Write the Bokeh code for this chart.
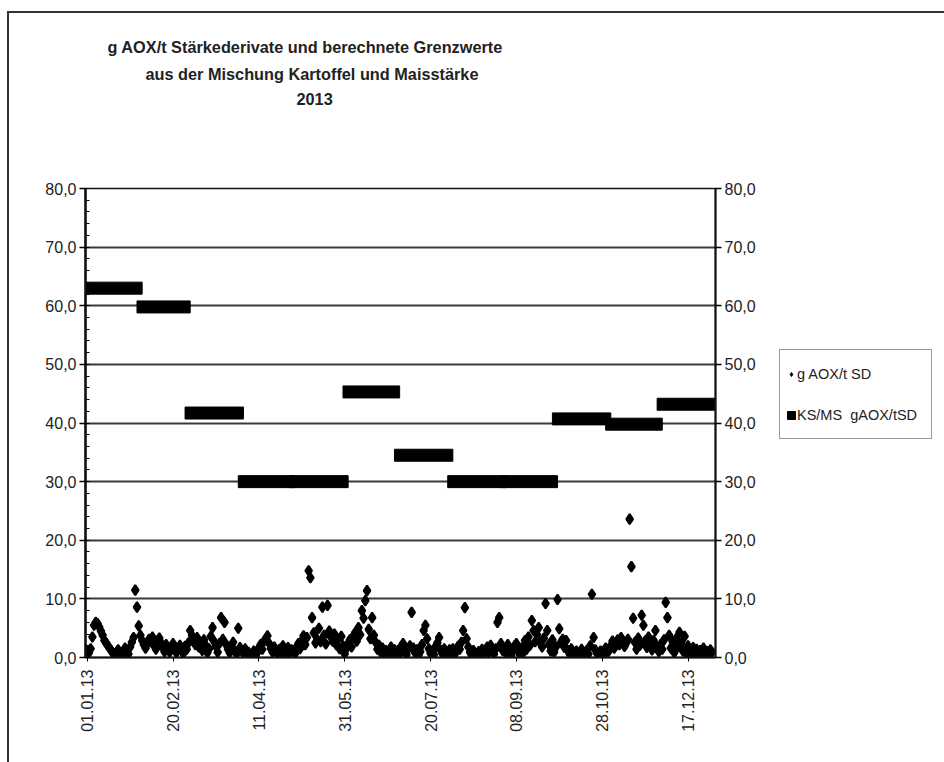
import numpy as np
from bokeh.plotting import figure
from bokeh.layouts import row, column
from bokeh.models import (ColumnDataSource, LinearAxis, FixedTicker, Title,
                          Legend, LegendItem, Range1d, Spacer)
from bokeh.embed import file_html
from bokeh.resources import INLINE

FONT = "'Liberation Sans', Arial, sans-serif"

# ---------------- data ----------------
title_lines = ["g AOX/t Stärkederivate und berechnete Grenzwerte",
               "aus der Mischung Kartoffel und Maisstärke",
               "2013"]

# daily values g AOX/t SD, 2013 (one per day)
jan = [1.2, 0.8, 1.5, 3.5, 5.5, 6.0, 5.8, 5.2, 4.5, 3.8, 2.9, 2.5, 2.0, 1.6, 1.2, 0.7,
       0.4, 0.9, 1.3, 0.5, 0.3, 1.0, 1.6, 0.8, 0.6, 1.8, 2.6, 3.4, 11.5, 8.6, 5.4]
feb = [3.8, 2.9, 2.2, 1.6, 2.4, 3.1, 2.7, 3.5, 2.0, 1.4, 2.8, 3.3, 2.5, 1.7, 1.0, 2.2,
       1.5, 0.9, 1.8, 2.4, 1.3, 0.8, 1.6, 2.1, 1.1, 0.7, 1.9, 1.4]
mar = [2.5, 4.6, 3.8, 2.9, 2.2, 3.4, 1.8, 2.6, 1.2, 3.0, 2.1, 0.8, 1.5, 3.6, 5.1, 2.7,
       1.9, 0.9, 2.4, 6.8, 3.1, 6.0, 2.2, 1.4, 0.8, 1.9, 2.6, 1.1, 0.6, 5.0, 1.7]
apr = [1.2, 0.7, 1.5, 0.4, 0.9, 0.2, 0.6, 1.1, 0.3, 0.8, 1.6, 2.2, 1.4, 2.8, 3.1, 3.7,
       2.4, 1.5, 0.9, 1.8, 1.2, 0.6, 1.4, 0.8, 2.0, 1.1, 0.5, 1.7, 0.9, 1.3]
may = [1.0, 0.6, 1.8, 2.4, 1.5, 2.9, 3.7, 2.2, 3.4, 14.8, 13.6, 6.8, 4.2, 2.5, 3.1, 5.0,
       2.7, 8.6, 3.8, 2.3, 8.9, 4.5, 3.5, 2.8, 4.0, 2.2, 3.1, 1.5, 3.6, 2.0, 0.6]
jun = [1.5, 2.4, 3.0, 1.8, 3.6, 4.2, 2.8, 5.1, 3.9, 8.0, 6.7, 9.7, 11.4, 4.8, 3.2, 6.8,
       3.8, 2.6, 1.4, 2.1, 0.9, 1.6, 0.7, 1.2, 0.5, 1.0, 1.8, 0.6, 1.3, 0.8]
jul = [1.2, 0.6, 1.9, 2.4, 1.1, 0.5, 1.4, 2.0, 7.7, 1.6, 0.8, 1.3, 0.4, 1.0, 2.2, 4.6,
       5.5, 3.2, 1.5, 0.7, 1.1, 0.5, 1.9, 2.5, 3.4, 1.2, 0.6, 1.5, 0.9, 0.4, 1.3]
aug = [0.8, 1.5, 0.5, 1.1, 1.9, 1.4, 2.6, 4.6, 8.5, 3.2, 1.8, 0.9, 0.4, 1.2, 0.6, 0.3,
       1.0, 0.7, 1.4, 0.5, 1.1, 1.8, 0.9, 2.1, 1.3, 0.6, 1.5, 6.0, 6.8, 2.4, 1.2]
sep = [1.5, 0.7, 2.2, 1.0, 0.4, 1.3, 2.0, 2.4, 1.1, 0.5, 1.6, 0.8, 2.9, 1.4, 3.5, 2.1,
       6.3, 4.6, 2.7, 3.9, 5.1, 2.5, 1.8, 3.3, 9.2, 4.6, 2.2, 1.1, 3.0, 0.9]
oct_ = [1.8, 9.9, 4.9, 2.6, 3.1, 1.7, 2.9, 1.2, 0.6, 1.5, 0.9, 0.4, 1.1, 0.7, 0.3, 1.4,
        0.8, 0.5, 1.2, 0.6, 2.0, 10.8, 3.4, 1.3, 0.7, 0.4, 1.1, 0.5, 0.9, 1.6, 0.8]
nov = [1.2, 2.0, 2.8, 1.6, 2.4, 3.0, 2.2, 3.4, 2.7, 1.9, 2.5, 3.1, 23.6, 15.5, 6.7, 2.6,
       1.4, 3.3, 2.1, 7.2, 5.5, 2.8, 1.7, 3.5, 2.4, 1.3, 2.9, 4.6, 1.8, 1.0]
dec = [2.2, 1.4, 3.0, 9.4, 6.8, 3.8, 1.6, 2.7, 0.8, 3.2, 1.9, 4.3, 2.5, 1.1, 3.6, 0.7,
       2.0, 1.3, 0.5, 1.7, 0.9, 1.4, 0.4, 1.2, 0.8, 1.6, 0.5, 1.0, 0.6, 1.3, 0.9]
aox_daily = jan + feb + mar + apr + may + jun + jul + aug + sep + oct_ + nov + dec

# monthly limit values KS/MS gAOX/tSD
month_days = [31, 28, 31, 30, 31, 30, 31, 31, 30, 31, 30, 31]
ksms_limit = [63.0, 59.8, 41.7, 30.0, 30.0, 45.3, 34.5, 30.0, 30.0, 40.7, 39.8, 43.2]

x_tick_days = [0, 50, 100, 150, 200, 250, 300, 350]
x_tick_labels = ["01.01.13", "20.02.13", "11.04.13", "31.05.13",
                 "20.07.13", "08.09.13", "28.10.13", "17.12.13"]
y_ticks = [0, 10, 20, 30, 40, 50, 60, 70, 80]
y_tick_labels = ["0,0", "10,0", "20,0", "30,0", "40,0", "50,0", "60,0", "70,0", "80,0"]
legend_labels = ["g AOX/t SD", "KS/MS  gAOX/tSD"]

# ---------------- sources ----------------
day_index = np.arange(len(aox_daily))
pts = ColumnDataSource(dict(x=day_index, y=aox_daily))

starts = np.concatenate([[0], np.cumsum(month_days)[:-1]])
mid = starts + (np.array(month_days) - 1) / 2.0
bars = ColumnDataSource(dict(x=mid, y=ksms_limit, w=np.array(month_days) + 3))

# ---------------- geometry (absolute page pixels) ----------------
PAGE_W, PAGE_H = 944, 762
OX, OY = 9, 13                  # content origin inside the page frame lines
W_LEG = 184
W_MAIN = PAGE_W - OX - W_LEG
H = PAGE_H - OY
FL, FR, FT, FB = 85, 715, 188, 657   # frame edges in page pixels

p = figure(width=W_MAIN, height=H, output_backend="svg", toolbar_location=None,
           x_range=Range1d(-1, 366), y_range=Range1d(0, 80),
           min_border_left=FL - OX, min_border_right=OX + W_MAIN - FR,
           min_border_top=FT - OY, min_border_bottom=PAGE_H - FB,
           background_fill_color="white", border_fill_color="white")
p.outline_line_color = "#111111"
p.outline_line_width = 1.5

p.xgrid.visible = False
p.ygrid.ticker = FixedTicker(ticks=y_ticks)
p.ygrid.grid_line_color = "#3a3a3a"
p.ygrid.grid_line_width = 2

# title: three lines stacked above the frame (first added = closest to frame)
title_style = dict(align="left", text_font=FONT, text_font_style="bold",
                   text_font_size="16.3px", text_color="#222222")
p.add_layout(Title(text=" ", standoff=64, **title_style), "above")          # spacer
p.add_layout(Title(text=title_lines[2], offset=296 - FL, standoff=0, **title_style), "above")
p.add_layout(Title(text=title_lines[1], offset=145 - FL, standoff=15, **title_style), "above")
p.title.text = title_lines[0]
p.title.offset = 107 - FL
p.title.standoff = 0
for k, v in title_style.items():
    setattr(p.title, k, v)

# left axis
ya = p.yaxis[0]
ya.ticker = FixedTicker(ticks=y_ticks, minor_ticks=list(range(0, 81, 2)))
ya.major_label_overrides = {t: l for t, l in zip(y_ticks, y_tick_labels)}
ya.axis_line_width = 2.5
ya.axis_line_color = "#111111"
ya.major_tick_out = 6
ya.major_tick_in = 0
ya.minor_tick_in = 4
ya.minor_tick_out = 0
ya.major_tick_line_width = 1.5
ya.major_label_text_font = FONT
ya.major_label_text_font_size = "16px"
ya.major_label_text_color = "#222222"
ya.major_label_standoff = 3

# right axis
ra = LinearAxis(ticker=FixedTicker(ticks=y_ticks))
ra.major_label_overrides = {t: l for t, l in zip(y_ticks, y_tick_labels)}
ra.axis_line_width = 2
ra.axis_line_color = "#111111"
ra.major_tick_out = 6
ra.major_tick_in = 0
ra.minor_tick_out = 0
ra.major_tick_line_width = 1.5
ra.major_label_text_font = FONT
ra.major_label_text_font_size = "16px"
ra.major_label_text_color = "#222222"
ra.major_label_standoff = 3
p.add_layout(ra, "right")

# bottom axis
xa = p.xaxis[0]
xa.ticker = FixedTicker(ticks=x_tick_days)
xa.major_label_overrides = {t: l for t, l in zip(x_tick_days, x_tick_labels)}
xa.major_label_orientation = np.pi / 2
xa.axis_line_width = 2
xa.axis_line_color = "#111111"
xa.major_tick_out = 4
xa.major_tick_in = 0
xa.minor_tick_out = 0
xa.major_label_text_font = FONT
xa.major_label_text_font_size = "16px"
xa.major_label_text_color = "#222222"
xa.major_label_standoff = 8

# glyphs
p.rect(x="x", y="y", width="w", height=12, height_units="screen",
       source=bars, fill_color="black", line_color="black")
p.scatter(x="x", y="y", source=pts, marker="diamond", size=10, line_width=2,
          fill_color="black", line_color="black")

# ---------------- legend panel (frame aligned with the main frame) ----------------
lf = figure(width=W_LEG, height=H, output_backend="svg", toolbar_location=None,
            x_range=Range1d(0, 1), y_range=Range1d(0, 1),
            min_border=0, background_fill_color="white", border_fill_color="white")
lf.axis.visible = False
lf.grid.visible = False
lf.outline_line_color = None
# legend-only renderers, placed outside the visible range
lg_pts = lf.scatter(x=[-5], y=[-5], marker="diamond", size=12,
                    fill_color="black", line_color="black")
lg_bar = lf.rect(x=[-5], y=[-5], width=[0.1], height=[0.1],
                 fill_color="black", line_color="black")
legend = Legend(items=[LegendItem(label=legend_labels[0], renderers=[lg_pts]),
                       LegendItem(label=legend_labels[1], renderers=[lg_bar])],
                location=(779 - (OX + W_MAIN), FB - 439),
                border_line_color="#333333", border_line_width=1.2,
                background_fill_color="white", background_fill_alpha=1.0,
                label_text_font=FONT, label_text_font_size="14.5px",
                label_text_color="#222222", label_height=35, label_width=128,
                glyph_width=10, glyph_height=10, label_standoff=1,
                spacing=6, padding=6, margin=0)
lf.add_layout(legend, "center")

# page frame lines (top and left edge of the scanned page)
EDGE = {"background-color": "#333333"}
top_edge = row(Spacer(width=OX - 2, height=2),
               Spacer(width=PAGE_W - OX + 2, height=2, styles=EDGE), spacing=0)
body = row(Spacer(width=OX - 2, height=H), Spacer(width=2, height=H, styles=EDGE),
           p, lf, spacing=0)
layout = column(Spacer(width=PAGE_W, height=OY - 2), top_edge, body, spacing=0)
open("out.html", "w").write(file_html(layout, INLINE))
